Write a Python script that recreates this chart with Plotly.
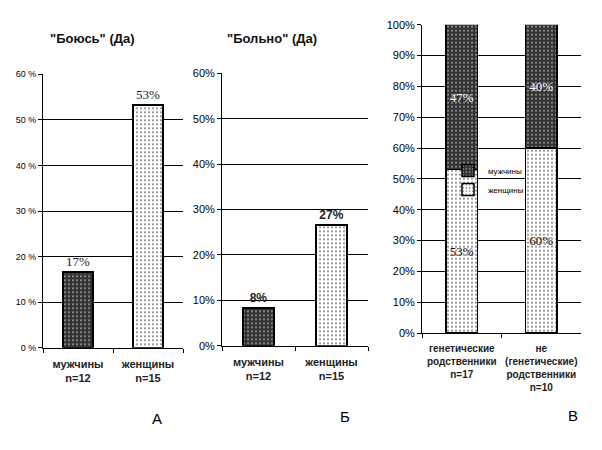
import plotly.graph_objects as go

# ---- data ----
cats_ab = ["мужчины<br>n=12", "женщины<br>n=15"]
vals_a = [16.7, 53.3]
text_a = ["17%", "53%"]
vals_b = [8.3, 26.7]
text_b = ["8%", "27%"]

cats_c = ["генетические<br>родственники<br>n=17",
          "не<br>(генетические)<br>родственники<br>n=10"]
women_c = [53, 60]
men_c = [47, 40]
women_text = ["53%", "60%"]
men_text = ["47%", "40%"]

yticks_ab = [0, 10, 20, 30, 40, 50, 60]
yticks_c = [0, 10, 20, 30, 40, 50, 60, 70, 80, 90, 100]

DARK = "#333333"
OFF = 8                      # page body margin
W, H = 602 - OFF, 450 - OFF  # figure size so that it fills the 602x450 window


def px_x(a, b):
    return [(a - OFF) / W, (b - OFF) / W]


def px_y(top, bottom):
    return [(H - (bottom - OFF)) / H, (H - (top - OFF)) / H]


def pxx(x):
    return (x - OFF) / W


def pxy(y):
    return (H - (y - OFF)) / H


def dark_marker(lw):
    return dict(color=DARK, line=dict(color="black", width=lw),
                pattern=dict(shape=".", fgcolor="white", fgopacity=1, size=4,
                             solidity=0.1, fillmode="overlay"))


def light_marker(lw):
    return dict(color="white", line=dict(color="black", width=lw),
                pattern=dict(shape=".", fgcolor="black", fgopacity=1, size=4,
                             solidity=0.1, fillmode="overlay"))


fig = go.Figure()

serif_a = dict(family="Liberation Serif", size=13, color="#222222")
bold_b = dict(family="Liberation Sans", size=12, color="#222222", weight="bold")

# Panel A
for i, mk in enumerate([dark_marker(2), light_marker(2)]):
    fig.add_trace(go.Bar(
        x=[cats_ab[i]], y=[vals_a[i]], text=[text_a[i]], textposition="outside",
        cliponaxis=False, textfont=serif_a, outsidetextfont=serif_a,
        marker=mk, width=0.43, xaxis="x", yaxis="y", showlegend=False, hoverinfo="skip"))

# Panel B
for i, mk in enumerate([dark_marker(2), light_marker(2)]):
    fig.add_trace(go.Bar(
        x=[cats_ab[i]], y=[vals_b[i]], text=[text_b[i]], textposition="outside",
        cliponaxis=False, textfont=bold_b, outsidetextfont=bold_b,
        marker=mk, width=0.43, xaxis="x2", yaxis="y2", showlegend=False, hoverinfo="skip"))

# Panel C (stacked)
f_dark = dict(family="Liberation Serif", size=13, color="#111111")
f_white = dict(family="Liberation Serif", size=13, color="white")
fig.add_trace(go.Bar(
    x=cats_c, y=women_c, name="женщины", text=women_text, textposition="inside",
    insidetextanchor="middle", textangle=0, constraintext="none",
    textfont=f_dark, insidetextfont=f_dark,
    marker=light_marker(1.5), width=0.4, xaxis="x3", yaxis="y3", hoverinfo="skip"))
fig.add_trace(go.Bar(
    x=cats_c, y=men_c, name="мужчины", text=men_text, textposition="inside",
    insidetextanchor="middle", textangle=0, constraintext="none",
    textfont=f_white, insidetextfont=f_white,
    marker=dark_marker(1.5), width=0.4, xaxis="x3", yaxis="y3", hoverinfo="skip"))

xcommon = dict(type="category", showline=True, linecolor="black", linewidth=1,
               ticks="outside", tickson="boundaries", ticklen=4, tickcolor="black",
               showgrid=False, zeroline=False, fixedrange=True, tickangle=0,
               ticklabelstandoff=6)
ycommon = dict(showline=True, linecolor="black", linewidth=1, ticks="outside", ticklen=4,
               tickcolor="black", showgrid=True, gridcolor="black", gridwidth=1,
               zeroline=False, fixedrange=True)

fig.update_layout(
    width=W, height=H, margin=dict(l=0, r=0, t=0, b=0),
    paper_bgcolor="white", plot_bgcolor="white", barmode="stack",
    font=dict(family="Liberation Sans", color="black"),
    uniformtext=dict(minsize=12, mode="show"),
    xaxis=dict(**xcommon, domain=px_x(43, 183), anchor="y",
               tickfont=dict(size=11, weight="bold", color="#222222")),
    yaxis=dict(**ycommon, domain=px_y(70, 351), anchor="x", range=[0, 60],
               tickvals=yticks_ab, ticktext=[f"{v} %" for v in yticks_ab],
               tickfont=dict(size=9)),
    xaxis2=dict(**xcommon, domain=px_x(222, 368), anchor="y2",
                tickfont=dict(size=11, weight="bold", color="#222222")),
    yaxis2=dict(**ycommon, domain=px_y(69, 349), anchor="x2", range=[0, 60],
                tickvals=yticks_ab, ticktext=[f"{v}%" for v in yticks_ab],
                tickfont=dict(size=11)),
    xaxis3=dict(**xcommon, domain=px_x(422, 581), anchor="y3",
                tickfont=dict(size=10, weight="bold", color="#222222")),
    yaxis3=dict(**ycommon, domain=px_y(19, 336), anchor="x3", range=[0, 100],
                tickvals=yticks_c, ticktext=[f"{v}%" for v in yticks_c],
                tickfont=dict(size=11)),
    legend=dict(x=pxx(448), y=pxy(154), xanchor="left", yanchor="top",
                bgcolor="rgba(0,0,0,0)", font=dict(size=8, color="black"),
                traceorder="reversed", itemwidth=30, tracegroupgap=0),
    annotations=[
        dict(text='<b>"Боюсь" (Да)</b>', x=pxx(93), y=pxy(33), xref="paper", yref="paper",
             xanchor="center", yanchor="middle", showarrow=False,
             font=dict(size=13, color="#111111")),
        dict(text='<b>"Больно" (Да)</b>', x=pxx(272), y=pxy(33), xref="paper", yref="paper",
             xanchor="center", yanchor="middle", showarrow=False,
             font=dict(size=13, color="#111111")),
        dict(text="А", x=pxx(157), y=pxy(424), xref="paper", yref="paper",
             xanchor="center", yanchor="middle", showarrow=False, font=dict(size=15)),
        dict(text="Б", x=pxx(345), y=pxy(422), xref="paper", yref="paper",
             xanchor="center", yanchor="middle", showarrow=False, font=dict(size=15)),
        dict(text="В", x=pxx(573), y=pxy(421), xref="paper", yref="paper",
             xanchor="center", yanchor="middle", showarrow=False, font=dict(size=15)),
    ],
)

fig.write_html("out.html")
